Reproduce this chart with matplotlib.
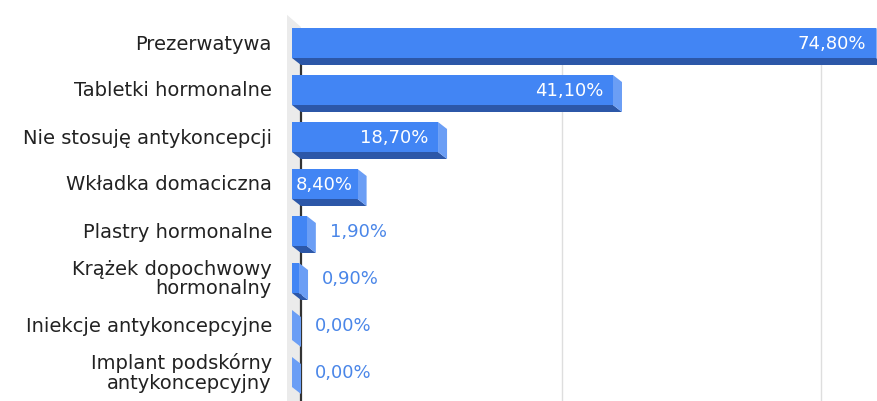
import matplotlib.pyplot as plt
from matplotlib.patches import Polygon, Rectangle
from matplotlib.transforms import offset_copy

labels = ['Prezerwatywa', 'Tabletki hormonalne', 'Nie stosuję antykoncepcji',
          'Wkładka domaciczna', 'Plastry hormonalne', 'Krążek dopochwowy\nhormonalny',
          'Iniekcje antykoncepcyjne', 'Implant podskórny\nantykoncepcyjny']
values = [74.8, 41.1, 18.7, 8.4, 1.9, 0.9, 0.0, 0.0]
grid_at = [33.4, 66.6]

W, H = 878, 402
X0 = 292        # px where the front faces begin
SCALE = 7.81    # px per percent
Y0, PITCH = 44, 47

fig = plt.figure(figsize=(W / 100, H / 100), dpi=100)
ax = fig.add_axes([0, 0, 1, 1])
ax.set_axis_off()
ax.set_xlim(-X0 / SCALE, (W - X0) / SCALE)
ax.set_ylim((H - Y0) / PITCH, -Y0 / PITCH)
bottom = (H - Y0) / PITCH

# 3d depth of the bars, in data units
dx = 9 / SCALE
dy = 7 / PITCH
h = 30 / PITCH

FRONT = '#4285f4'
BASE = '#2c57a8'
SIDE = '#6b9ef5'

# side wall, grid and axis
top_wall = -0.6
top_axis = top_wall + 0.34
ax.add_patch(Polygon([(-5 / SCALE, top_wall), (dx, top_wall + 0.26), (dx, bottom), (-5 / SCALE, bottom)],
                     closed=True, color='#ebebeb', lw=0, zorder=0))
for g in grid_at:
    ax.plot([g + dx, g + dx], [top_axis, bottom], color='#dedede', lw=1, zorder=1)
ax.plot([dx, dx], [top_axis, bottom], color='#333333', lw=1.6, zorder=1)

for i, v in enumerate(values):
    t, b = i - h / 2, i + h / 2
    ax.add_patch(Polygon([(0, b), (v, b), (v + dx, b + dy), (dx, b + dy)],
                         closed=True, color=BASE, lw=0, zorder=2))
    ax.add_patch(Polygon([(v, t), (v + dx, t + dy), (v + dx, b + dy), (v, b)],
                         closed=True, color=SIDE, lw=0, zorder=2))
    if v > 0:
        ax.add_patch(Rectangle((0, t), v, h, color=FRONT, lw=0, zorder=3))

    txt = f'{v:.2f}'.replace('.', ',') + '%'
    if v * SCALE > 80:
        tr = offset_copy(ax.transData, fig=fig, x=-10, y=0, units='dots')
        ax.text(v, i, txt, transform=tr, ha='right', va='center', color='white',
                fontsize=13, zorder=4)
    elif v * SCALE > 40:
        tr = offset_copy(ax.transData, fig=fig, x=4, y=0, units='dots')
        ax.text(0, i, txt, transform=tr, ha='left', va='center', color='white',
                fontsize=13, zorder=4)
    else:
        tr = offset_copy(ax.transData, fig=fig, x=23, y=0, units='dots')
        ax.text(v, i, txt, transform=tr, ha='left', va='center', color='#4a86e8',
                fontsize=13, zorder=4)

    tr = offset_copy(ax.transData, fig=fig, x=-20, y=0, units='dots')
    ax.text(0, i, labels[i], transform=tr, ha='right', va='center', color='#222222',
            fontsize=14, linespacing=1.05, multialignment='right')

fig.savefig('out.png', dpi=100, facecolor='white')
